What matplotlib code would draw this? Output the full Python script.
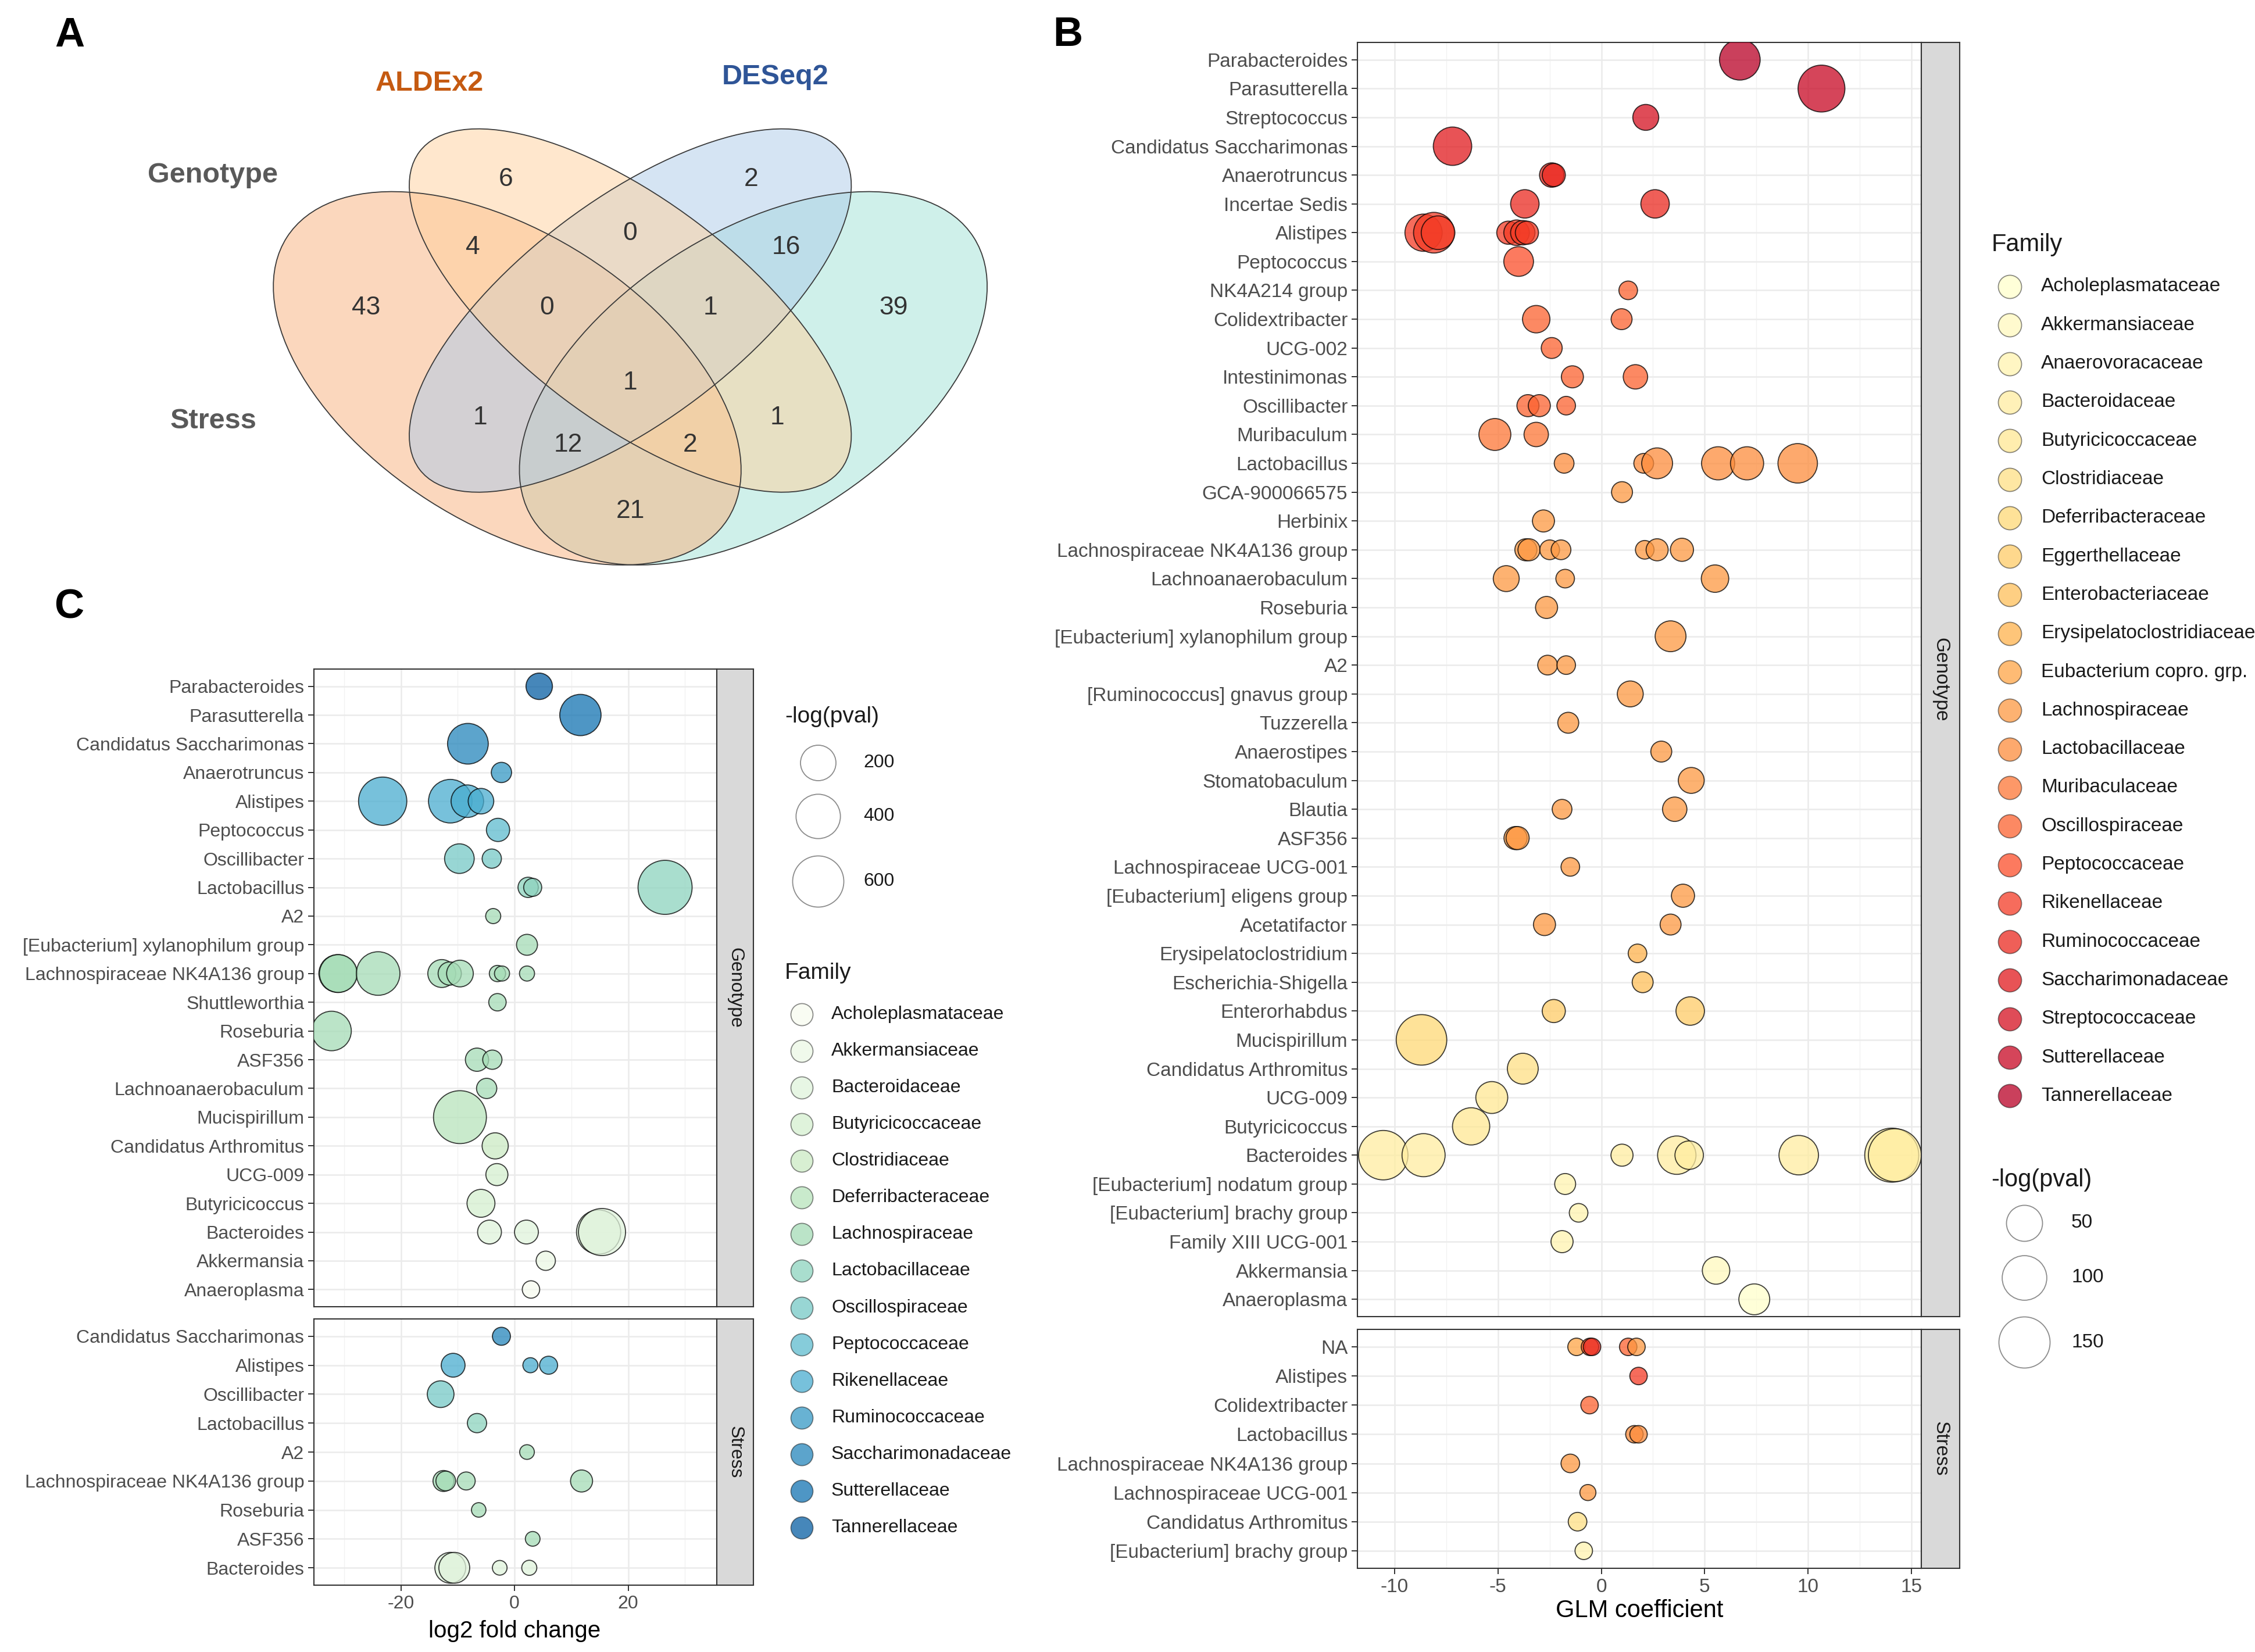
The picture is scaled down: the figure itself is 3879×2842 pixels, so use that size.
import numpy as np
import matplotlib
matplotlib.use('Agg')
import matplotlib.pyplot as plt
from matplotlib.patches import Ellipse

plt.rcParams['font.family'] = ['Liberation Sans', 'DejaVu Sans']

W, H, DPI = 3879, 2842, 100
PT = 72.0 / DPI

# ---------------- panel A : venn counts ----------------
venn_regions = ['1', '2', '3', '4', '12', '23', '34', '13', '123', '234',
                '1234', '14', '134', '124', '24']
venn_counts = [43, 6, 2, 39, 4, 0, 16, 1, 0, 1, 1, 21, 12, 2, 1]

# ---------------- panel B : GLM (genotype / stress) ----------------
b_families = ['Acholeplasmataceae', 'Akkermansiaceae', 'Anaerovoracaceae', 'Bacteroidaceae',
              'Butyricicoccaceae', 'Clostridiaceae', 'Deferribacteraceae', 'Eggerthellaceae',
              'Enterobacteriaceae', 'Erysipelatoclostridiaceae', 'Eubacterium copro. grp.',
              'Lachnospiraceae', 'Lactobacillaceae', 'Muribaculaceae', 'Oscillospiraceae',
              'Peptococcaceae', 'Rikenellaceae', 'Ruminococcaceae', 'Saccharimonadaceae',
              'Streptococcaceae', 'Sutterellaceae', 'Tannerellaceae']

b_geno_rows = ['Parabacteroides', 'Parasutterella', 'Streptococcus', 'Candidatus Saccharimonas',
               'Anaerotruncus', 'Incertae Sedis', 'Alistipes', 'Peptococcus', 'NK4A214 group',
               'Colidextribacter', 'UCG-002', 'Intestinimonas', 'Oscillibacter', 'Muribaculum',
               'Lactobacillus', 'GCA-900066575', 'Herbinix', 'Lachnospiraceae NK4A136 group',
               'Lachnoanaerobaculum', 'Roseburia', '[Eubacterium] xylanophilum group', 'A2',
               '[Ruminococcus] gnavus group', 'Tuzzerella', 'Anaerostipes', 'Stomatobaculum',
               'Blautia', 'ASF356', 'Lachnospiraceae UCG-001', '[Eubacterium] eligens group',
               'Acetatifactor', 'Erysipelatoclostridium', 'Escherichia-Shigella', 'Enterorhabdus',
               'Mucispirillum', 'Candidatus Arthromitus', 'UCG-009', 'Butyricicoccus', 'Bacteroides',
               '[Eubacterium] nodatum group', '[Eubacterium] brachy group', 'Family XIII UCG-001',
               'Akkermansia', 'Anaeroplasma']
b_geno_family = ['Tannerellaceae', 'Sutterellaceae', 'Streptococcaceae', 'Saccharimonadaceae',
                 'Ruminococcaceae', 'Ruminococcaceae', 'Rikenellaceae', 'Peptococcaceae',
                 'Oscillospiraceae', 'Oscillospiraceae', 'Oscillospiraceae', 'Oscillospiraceae',
                 'Oscillospiraceae', 'Muribaculaceae', 'Lactobacillaceae'] + ['Lachnospiraceae'] * 16 + \
                ['Erysipelatoclostridiaceae', 'Enterobacteriaceae', 'Eggerthellaceae', 'Deferribacteraceae',
                 'Clostridiaceae', 'Butyricicoccaceae', 'Butyricicoccaceae', 'Bacteroidaceae',
                 'Anaerovoracaceae', 'Anaerovoracaceae', 'Anaerovoracaceae', 'Akkermansiaceae',
                 'Acholeplasmataceae']
# (GLM coefficient, -log(pval))
b_geno_points = {
    'Parabacteroides': [(6.7, 75)],
    'Parasutterella': [(10.65, 116)],
    'Streptococcus': [(2.15, 13)],
    'Candidatus Saccharimonas': [(-7.2, 62)],
    'Anaerotruncus': [(-2.4, 9.5), (-2.3, 7)],
    'Incertae Sedis': [(-3.7, 20), (2.6, 20)],
    'Alistipes': [(-8.6, 56), (-8.1, 75), (-7.9, 39), (-4.5, 7), (-4.1, 12), (-3.8, 9.5), (-3.6, 7)],
    'Peptococcus': [(-4.0, 24)],
    'NK4A214 group': [(1.3, 1.2)],
    'Colidextribacter': [(-3.15, 17), (0.98, 3.6)],
    'UCG-002': [(-2.4, 3.6)],
    'Intestinimonas': [(-1.4, 5.2), (1.65, 9.5)],
    'Oscillibacter': [(-3.55, 5.2), (-3.0, 5.2), (-1.7, 1.2)],
    'Muribaculum': [(-5.15, 32), (-3.15, 9.5)],
    'Lactobacillus': [(-1.8, 2.2), (2.05, 2.2), (2.7, 28), (5.65, 37), (7.05, 37), (9.5, 68)],
    'GCA-900066575': [(1.0, 3.6)],
    'Herbinix': [(-2.8, 5.2)],
    'Lachnospiraceae NK4A136 group': [(-3.65, 5.2), (-3.5, 5.2), (-2.5, 2.2), (-1.95, 2.2),
                                      (2.1, 1.2), (2.7, 5.2), (3.9, 7)],
    'Lachnoanaerobaculum': [(-4.6, 13), (-1.75, 1.2), (5.5, 17)],
    'Roseburia': [(-2.65, 5.2)],
    '[Eubacterium] xylanophilum group': [(3.35, 28)],
    'A2': [(-2.6, 2.2), (-1.7, 1.2)],
    '[Ruminococcus] gnavus group': [(1.4, 13)],
    'Tuzzerella': [(-1.6, 3.6)],
    'Anaerostipes': [(2.9, 3.6)],
    'Stomatobaculum': [(4.35, 13)],
    'Blautia': [(-1.9, 2.2), (3.55, 9.5)],
    'ASF356': [(-4.15, 7), (-4.05, 7)],
    'Lachnospiraceae UCG-001': [(-1.5, 1.2)],
    '[Eubacterium] eligens group': [(3.95, 7)],
    'Acetatifactor': [(-2.75, 5.2), (3.35, 3.6)],
    'Erysipelatoclostridium': [(1.75, 1.2)],
    'Escherichia-Shigella': [(2.0, 3.6)],
    'Enterorhabdus': [(-2.3, 7), (4.3, 20)],
    'Mucispirillum': [(-8.7, 145)],
    'Candidatus Arthromitus': [(-3.8, 28)],
    'UCG-009': [(-5.3, 32)],
    'Butyricicoccus': [(-6.3, 56)],
    'Bacteroides': [(-10.55, 136), (-8.6, 90), (1.0, 5.2), (3.65, 62), (4.25, 20), (9.55, 68),
                    (14.05, 175), (14.2, 165)],
    '[Eubacterium] nodatum group': [(-1.75, 3.6)],
    '[Eubacterium] brachy group': [(-1.1, 1.2)],
    'Family XIII UCG-001': [(-1.9, 5.2)],
    'Akkermansia': [(5.55, 17)],
    'Anaeroplasma': [(7.4, 28)],
}

b_stress_rows = ['NA', 'Alistipes', 'Colidextribacter', 'Lactobacillus',
                 'Lachnospiraceae NK4A136 group', 'Lachnospiraceae UCG-001',
                 'Candidatus Arthromitus', '[Eubacterium] brachy group']
b_stress_family = ['Lachnospiraceae', 'Rikenellaceae', 'Oscillospiraceae', 'Lactobacillaceae',
                   'Lachnospiraceae', 'Lachnospiraceae', 'Clostridiaceae', 'Anaerovoracaceae']
b_stress_points = {
    'NA': [(-1.2, 0.5, 'Eubacterium copro. grp.'), (-0.55, 0.5, 'Oscillospiraceae'),
           (-0.45, 0.5, 'Ruminococcaceae'), (1.3, 0.5, 'Oscillospiraceae'),
           (1.7, 0.5, 'Lachnospiraceae')],
    'Alistipes': [(1.8, 0.5)],
    'Colidextribacter': [(-0.57, 0.5)],
    'Lactobacillus': [(1.6, 0.5), (1.8, 0.5)],
    'Lachnospiraceae NK4A136 group': [(-1.5, 1.2)],
    'Lachnospiraceae UCG-001': [(-0.65, 0.05)],
    'Candidatus Arthromitus': [(-1.15, 1.2)],
    '[Eubacterium] brachy group': [(-0.85, 0.5)],
}
b_size_breaks = [50, 100, 150]

# ---------------- panel C : log2 fold change ----------------
c_families = ['Acholeplasmataceae', 'Akkermansiaceae', 'Bacteroidaceae', 'Butyricicoccaceae',
              'Clostridiaceae', 'Deferribacteraceae', 'Lachnospiraceae', 'Lactobacillaceae',
              'Oscillospiraceae', 'Peptococcaceae', 'Rikenellaceae', 'Ruminococcaceae',
              'Saccharimonadaceae', 'Sutterellaceae', 'Tannerellaceae']

c_geno_rows = ['Parabacteroides', 'Parasutterella', 'Candidatus Saccharimonas', 'Anaerotruncus',
               'Alistipes', 'Peptococcus', 'Oscillibacter', 'Lactobacillus', 'A2',
               '[Eubacterium] xylanophilum group', 'Lachnospiraceae NK4A136 group', 'Shuttleworthia',
               'Roseburia', 'ASF356', 'Lachnoanaerobaculum', 'Mucispirillum', 'Candidatus Arthromitus',
               'UCG-009', 'Butyricicoccus', 'Bacteroides', 'Akkermansia', 'Anaeroplasma']
c_geno_family = ['Tannerellaceae', 'Sutterellaceae', 'Saccharimonadaceae', 'Ruminococcaceae',
                 'Rikenellaceae', 'Peptococcaceae', 'Oscillospiraceae', 'Lactobacillaceae'] + \
                ['Lachnospiraceae'] * 7 + \
                ['Deferribacteraceae', 'Clostridiaceae', 'Butyricicoccaceae', 'Butyricicoccaceae',
                 'Bacteroidaceae', 'Akkermansiaceae', 'Acholeplasmataceae']
# (log2 fold change, -log(pval))
c_geno_points = {
    'Parabacteroides': [(4.35, 67)],
    'Parasutterella': [(11.6, 323)],
    'Candidatus Saccharimonas': [(-8.2, 309)],
    'Anaerotruncus': [(-2.3, 17)],
    'Alistipes': [(-23.2, 509), (-11.3, 380), (-8.3, 149), (-5.9, 58)],
    'Peptococcus': [(-2.9, 37)],
    'Oscillibacter': [(-9.7, 106), (-4.0, 12)],
    'Lactobacillus': [(2.4, 17), (3.2, 7), (26.5, 697)],
    'A2': [(-3.75, 0.5)],
    '[Eubacterium] xylanophilum group': [(2.2, 21)],
    'Lachnospiraceae NK4A136 group': [(-31.1, 246), (-31.0, 246), (-24.0, 380), (-12.8, 84),
                                      (-11.4, 37), (-9.6, 70), (-3.0, 2.2), (-2.2, 0.5), (2.2, 0.5)],
    'Shuttleworthia': [(-3.0, 5)],
    'Roseburia': [(-32.2, 283)],
    'ASF356': [(-6.6, 37), (-3.9, 12)],
    'Lachnoanaerobaculum': [(-4.9, 17)],
    'Mucispirillum': [(-9.6, 657)],
    'Candidatus Arthromitus': [(-3.4, 64)],
    'UCG-009': [(-3.1, 28)],
    'Butyricicoccus': [(-5.9, 84)],
    'Bacteroides': [(-4.4, 42), (2.1, 42), (14.8, 396), (15.4, 475)],
    'Akkermansia': [(5.5, 12)],
    'Anaeroplasma': [(2.9, 5)],
}

c_stress_rows = ['Candidatus Saccharimonas', 'Alistipes', 'Oscillibacter', 'Lactobacillus', 'A2',
                 'Lachnospiraceae NK4A136 group', 'Roseburia', 'ASF356', 'Bacteroides']
c_stress_family = ['Saccharimonadaceae', 'Rikenellaceae', 'Oscillospiraceae', 'Lactobacillaceae',
                   'Lachnospiraceae', 'Lachnospiraceae', 'Lachnospiraceae', 'Lachnospiraceae',
                   'Bacteroidaceae']
c_stress_points = {
    'Candidatus Saccharimonas': [(-2.3, 7)],
    'Alistipes': [(-10.8, 42), (2.8, 0.5), (6.0, 7)],
    'Oscillibacter': [(-13.0, 70)],
    'Lactobacillus': [(-6.6, 12)],
    'A2': [(2.2, 0.2)],
    'Lachnospiraceae NK4A136 group': [(-12.5, 21), (-12.1, 14), (-8.5, 7), (11.8, 28)],
    'Roseburia': [(-6.3, 0.1)],
    'ASF356': [(3.2, 0.2)],
    'Bacteroides': [(-11.3, 123), (-10.6, 123), (-2.6, 0.2), (2.6, 0.5)],
}
c_size_breaks = [200, 400, 600]

ALPHA = 0.75


def palette(cmap_name, fams, top):
    cm = plt.get_cmap(cmap_name)
    out = {}
    for f, t in zip(fams, np.linspace(0, top, len(fams))):
        r, g, b, _ = cm(t)
        out[f] = (r, g, b, ALPHA)
    return out


b_pal = palette('YlOrRd', b_families, 0.88)
c_pal = palette('GnBu', c_families, 0.9)


def size_b(v):
    d = 28.5 + 5.02 * np.sqrt(v) - 2
    return (d * PT) ** 2


def size_c(v):
    d = 26.1 + 2.61 * np.sqrt(v) - 2
    return (d * PT) ** 2


def px_box(l, t, r, b):
    return [l / W, 1 - b / H, (r - l) / W, (b - t) / H]


fig = plt.figure(figsize=(W / DPI, H / DPI), dpi=DPI)
fig.patch.set_facecolor('white')

# background axes in pixel coordinates (venn, letters, legends)
bg = fig.add_axes([0, 0, 1, 1])
bg.set_xlim(0, W)
bg.set_ylim(H, 0)
bg.axis('off')

# ---------- venn ----------
# drawn bottom -> top : DESeq2 stress, ALDEx2 stress, DESeq2 genotype, ALDEx2 genotype
ell = [((1295.8, 650.8), 900, 500, -32.6, '#A1E3D7'),
       ((872.5, 650.8), 900, 500, 32.6, '#F9B17D'),
       ((1084.2, 534.2), 908, 380, -37.0, '#ADCBE9'),
       ((1084.2, 534.2), 908, 380, 37.0, '#FFD19D')]
for c, w, h, a, col in ell:
    bg.add_patch(Ellipse(c, w, h, angle=a, facecolor=col, alpha=0.5, edgecolor='none'))
for c, w, h, a, col in ell:
    bg.add_patch(Ellipse(c, w, h, angle=a, facecolor='none', edgecolor='#3A3A3A', lw=1.3))

region_xy = {'1': (630, 525), '2': (870, 304), '3': (1292, 304), '4': (1537, 525),
             '12': (813, 421), '23': (1084, 397), '34': (1352, 421), '13': (826, 714),
             '123': (941, 525), '234': (1222, 525), '1234': (1084, 654), '14': (1084, 875),
             '134': (977, 761), '124': (1187, 761), '24': (1337, 714)}
for r, n in zip(venn_regions, venn_counts):
    x, y = region_xy[r]
    bg.text(x, y + 16, str(n), ha='center', va='baseline', fontsize=32, color='#333333')

bg.text(739, 156, 'ALDEx2', ha='center', va='baseline', fontsize=35, fontweight='bold', color='#C55A11')
bg.text(1334, 145, 'DESeq2', ha='center', va='baseline', fontsize=35, fontweight='bold', color='#2F5597')
bg.text(366, 314, 'Genotype', ha='center', va='baseline', fontsize=35, fontweight='bold', color='#595959')
bg.text(367, 737, 'Stress', ha='center', va='baseline', fontsize=35, fontweight='bold', color='#595959')

for lab, x, y in [('A', 120, 80), ('B', 1837, 79), ('C', 119, 1064)]:
    bg.text(x, y, lab, ha='center', va='baseline', fontsize=51, fontweight='bold', color='black')


# ---------- bubble facets ----------
def facet(box_, rows, fams, points, pal, size_fn, xlim, xmaj, xmin, bottom, fs, strip_box, strip_lab):
    ax = fig.add_axes(px_box(*box_))
    n = len(rows)
    fam_of = dict(zip(rows, fams))
    xs, ys, ss, fc = [], [], [], []
    for i, g in enumerate(rows):
        for p in points[g]:
            xs.append(p[0])
            ys.append(n - i)
            ss.append(size_fn(p[1]))
            fc.append(pal[p[2] if len(p) > 2 else fam_of[g]])
    ax.scatter(xs, ys, s=ss, c=fc, edgecolors=(0, 0, 0, ALPHA), linewidths=1.3, zorder=3)
    ax.set_xlim(*xlim)
    ax.set_ylim(0.4, n + 0.6)
    ax.set_yticks(np.arange(1, n + 1))
    ax.set_yticklabels(rows[::-1], fontsize=fs, color='#4D4D4D')
    ax.set_xticks(xmaj)
    ax.set_xticks(xmin, minor=True)
    ax.grid(True, which='major', color='#EBEBEB', lw=1.8)
    ax.grid(True, which='minor', axis='x', color='#F2F2F2', lw=1.0)
    ax.set_axisbelow(True)
    ax.tick_params(axis='y', length=7, width=1.4, color='#333333', pad=5)
    ax.tick_params(axis='x', which='minor', length=0)
    if bottom:
        ax.set_xticklabels([str(t) for t in xmaj], fontsize=fs, color='#4D4D4D')
        ax.tick_params(axis='x', which='major', length=7, width=1.4, color='#333333', pad=5)
    else:
        ax.tick_params(axis='x', which='major', length=0, labelbottom=False)
    for s in ax.spines.values():
        s.set_color('#333333')
        s.set_linewidth(1.5)
    sa = fig.add_axes(px_box(*strip_box))
    sa.set_facecolor('#D9D9D9')
    sa.set_xticks([])
    sa.set_yticks([])
    for s in sa.spines.values():
        s.set_color('#333333')
        s.set_linewidth(1.5)
    sa.text(0.5, 0.5, strip_lab, rotation=-90, ha='center', va='center', fontsize=fs,
            color='#1A1A1A', transform=sa.transAxes)
    return ax


b_xlim = (-11.8, 15.48)
b_maj = [-10, -5, 0, 5, 10, 15]
b_min = [-7.5, -2.5, 2.5, 7.5, 12.5]
facet((2335, 73, 3305, 2265), b_geno_rows, b_geno_family, b_geno_points, b_pal, size_b,
      b_xlim, b_maj, b_min, False, 24, (3305, 73, 3371, 2265), 'Genotype')
facet((2335, 2287, 3305, 2698), b_stress_rows, b_stress_family, b_stress_points, b_pal, size_b,
      b_xlim, b_maj, b_min, True, 24, (3305, 2287, 3371, 2698), 'Stress')

c_xlim = (-35.3, 35.6)
c_maj = [-20, 0, 20]
c_min = [-30, -10, 10, 30]
facet((540, 1151, 1233, 2248), c_geno_rows, c_geno_family, c_geno_points, c_pal, size_c,
      c_xlim, c_maj, c_min, False, 23, (1233, 1151, 1296, 2248), 'Genotype')
facet((540, 2269, 1233, 2727), c_stress_rows, c_stress_family, c_stress_points, c_pal, size_c,
      c_xlim, c_maj, c_min, True, 23, (1233, 2269, 1296, 2727), 'Stress')

bg.text(2820, 2771, 'GLM coefficient', ha='center', va='center', fontsize=30, color='black')
bg.text(885, 2806, 'log2 fold change', ha='center', va='center', fontsize=29, color='black')


# ---------- legends ----------
def family_legend(x_title, y_title, x_key, x_lab, y0, dy, fams, pal, key_d, fs_title, fs_lab):
    bg.text(x_title, y_title, 'Family', ha='left', va='center', fontsize=fs_title, color='#1A1A1A')
    for k, f in enumerate(fams):
        y = y0 + k * dy
        bg.scatter([x_key], [y], s=(key_d * PT) ** 2, color=pal[f],
                   edgecolors=(0, 0, 0, 0.45), linewidths=1.3, zorder=5)
        bg.text(x_lab, y, f, ha='left', va='center', fontsize=fs_lab, color='#1A1A1A')


def size_legend(x_title, y_title, x_key, x_lab, ys, breaks, size_fn, fs_title, fs_lab):
    bg.text(x_title, y_title, '-log(pval)', ha='left', va='center', fontsize=fs_title, color='#1A1A1A')
    for y, v in zip(ys, breaks):
        bg.scatter([x_key], [y], s=size_fn(v), facecolor='white',
                   edgecolors=(0, 0, 0, 0.45), linewidths=1.3, zorder=5)
        bg.text(x_lab, y, str(v), ha='left', va='center', fontsize=fs_lab, color='#1A1A1A')


family_legend(3426, 421, 3457, 3511, 493, 66.3, b_families, b_pal, 40, 30, 24)
size_legend(3425, 2030, 3482, 3563, [2104, 2198, 2309], b_size_breaks, size_b, 30, 24)

size_legend(1350, 1233, 1407, 1485, [1312, 1404, 1516], c_size_breaks, size_c, 28, 23)
family_legend(1350, 1674, 1379, 1430, 1745, 63.07, c_families, c_pal, 38, 28, 23)

fig.savefig('out.png', dpi=DPI, facecolor='white')
